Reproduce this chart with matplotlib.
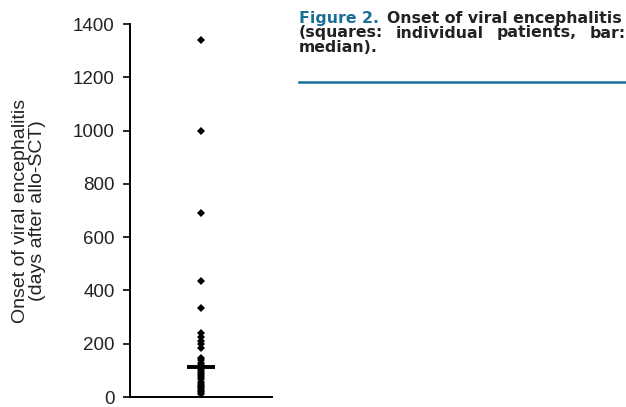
import numpy as np
import matplotlib
matplotlib.use('Agg')
import matplotlib.pyplot as plt

plt.rcParams['font.family'] = ['Liberation Sans', 'DejaVu Sans']

# onset per patient (days after allo-SCT)
onset_days = [1340, 998, 690, 436, 334, 240, 226, 212, 198, 185,
              148, 138, 128, 120, 113, 106, 98, 90, 82, 74,
              66, 58, 50, 43, 36, 30, 24, 18, 12]
y_ticks = [0, 200, 400, 600, 800, 1000, 1200, 1400]
caption_head = 'Figure 2.'
caption_line1 = 'Onset of viral encephalitis'
caption_line2 = ['(squares:', 'individual', 'patients,', 'bar:']
caption_line3 = 'median).'

fig = plt.figure(figsize=(6.26, 4.07), dpi=100)
ax = fig.add_axes([130/626, 10/407, 142/626, 373/407])

ax.plot(np.ones(len(onset_days)), onset_days, 'kD', markersize=4.5,
        markeredgewidth=0, clip_on=False)
med = np.median(onset_days)
ax.plot([0.803, 1.197], [med, med], 'k-', linewidth=2.8, solid_capstyle='butt')

ax.set_xlim(0, 2)
ax.set_ylim(0, 1400)
ax.set_yticks(y_ticks)
ax.set_xticks([])
ax.spines['top'].set_visible(False)
ax.spines['right'].set_visible(False)
ax.spines['left'].set_linewidth(1.4)
ax.spines['bottom'].set_linewidth(1.4)
ax.tick_params(axis='y', direction='out', length=5, width=1.2, labelsize=13.5,
               pad=6, labelcolor='#222222')
ax.set_ylabel('Onset of viral encephalitis\n(days after allo-SCT)', fontsize=14,
              linespacing=1.0, color='#222222')
ax.yaxis.set_label_coords(-0.59, 0.5)

blue = '#1a6f96'
dark = '#222222'
cap_font = ['DejaVu Sans']
fs = 11.3
kw = dict(fontsize=fs, fontweight='bold', family=cap_font, va='baseline')
left, right = 299, 626
fig.text(left/626, 1 - 23/407, caption_head, color=blue, **kw)
fig.text(387/626, 1 - 23/407, caption_line1, color=dark, **kw)

# line 2 is justified: spread the words over the full caption width
renderer = fig.canvas.get_renderer()
words = [fig.text(0, 1 - 37.5/407, w, color=dark, **kw) for w in caption_line2]
widths = [t.get_window_extent(renderer).width for t in words]
gap = (right - left - sum(widths)) / (len(words) - 1)
xp = left
for t, w in zip(words, widths):
    t.set_x(xp/626)
    xp += w + gap

fig.text(left/626, 1 - 52/407, caption_line3, color=dark, **kw)
fig.add_artist(plt.Line2D([left/626, 1.0], [1 - 82/407, 1 - 82/407],
                          color=blue, linewidth=1.8, transform=fig.transFigure))

fig.savefig('out.png', dpi=100)
